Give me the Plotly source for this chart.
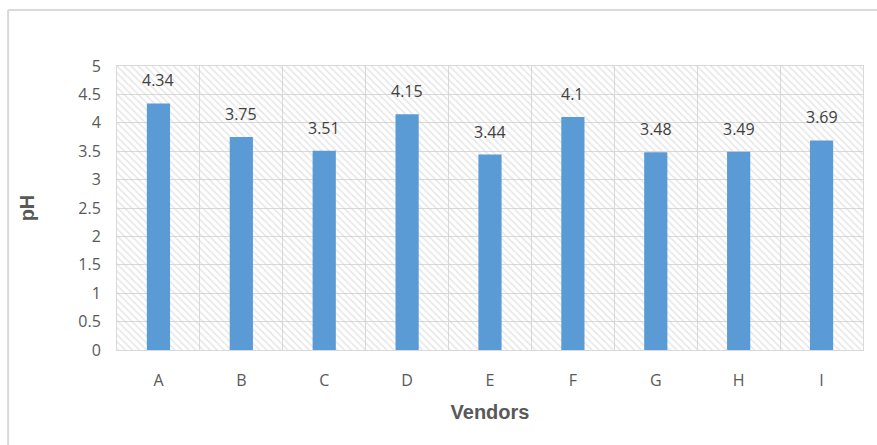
import plotly.graph_objects as go

vendors = ["A", "B", "C", "D", "E", "F", "G", "H", "I"]
ph_values = [4.34, 3.75, 3.51, 4.15, 3.44, 4.10, 3.48, 3.49, 3.69]
ph_labels = ["4.34", "3.75", "3.51", "4.15", "3.44", "4.1", "3.48", "3.49", "3.69"]
y_max = 5
y_ticks = [0, 0.5, 1, 1.5, 2, 2.5, 3, 3.5, 4, 4.5, 5]
y_tick_text = ["0", "0.5", "1", "1.5", "2", "2.5", "3", "3.5", "4", "4.5", "5"]

FONT = "Liberation Sans, Arial, sans-serif"
LABEL_FONT = "Open Sans, Noto Sans, sans-serif"

fig = go.Figure()

# hatched plot-area background
fig.add_trace(go.Bar(
    x=vendors, y=[y_max] * len(vendors), width=1,
    marker=dict(color="rgba(255,255,255,0)", line=dict(width=0),
                pattern=dict(shape="\\", fgcolor="#CDCDCD",
                             bgcolor="rgba(255,255,255,0)",
                             size=5, solidity=0.3)),
    hoverinfo="skip", showlegend=False,
))

fig.add_trace(go.Bar(
    x=vendors, y=ph_values, width=0.28,
    marker=dict(color="#5B9BD5", line=dict(width=0)),
    showlegend=False,
))

for v, val, lab in zip(vendors, ph_values, ph_labels):
    fig.add_annotation(x=v, y=val, text=lab, showarrow=False, yshift=23,
                       font=dict(family=LABEL_FONT, size=16, color="#404040"))

# outer chart border (left and top only visible)
fig.add_shape(type="line", xref="paper", yref="paper",
              x0=-0.146, x1=1.03, y0=1.197, y1=1.197,
              line=dict(color="#D9D9D9", width=2))
fig.add_shape(type="line", xref="paper", yref="paper",
              x0=-0.146, x1=-0.146, y0=1.197, y1=-0.34,
              line=dict(color="#D9D9D9", width=2))

fig.update_layout(
    width=877, height=445,
    margin=dict(l=117, r=14, t=66, b=95),
    barmode="overlay",
    plot_bgcolor="white", paper_bgcolor="white",
    font=dict(family=LABEL_FONT, color="#595959"),
    xaxis=dict(
        type="category", tickson="boundaries", showgrid=True,
        gridcolor="#D9D9D9", gridwidth=1, ticks="", ticklen=0,
        showline=True, linecolor="#D9D9D9", mirror=True,
        ticklabelstandoff=16,
        tickfont=dict(family=LABEL_FONT, size=16, color="#595959"),
        title=dict(text="<b>Vendors</b>", standoff=14,
                   font=dict(family=FONT, size=20, color="#595959")),
        range=[-0.5, 8.5],
    ),
    yaxis=dict(
        range=[0, y_max], tickvals=y_ticks, ticktext=y_tick_text,
        showgrid=True, gridcolor="#D9D9D9", gridwidth=1,
        zeroline=False, showline=True, linecolor="#D9D9D9", mirror=True,
        ticks="", ticklabelstandoff=12,
        tickfont=dict(family=LABEL_FONT, size=16, color="#595959"),
        title=dict(text="<b>pH</b>", standoff=38,
                   font=dict(family=FONT, size=20, color="#595959")),
    ),
)

fig.write_html("out.html")
